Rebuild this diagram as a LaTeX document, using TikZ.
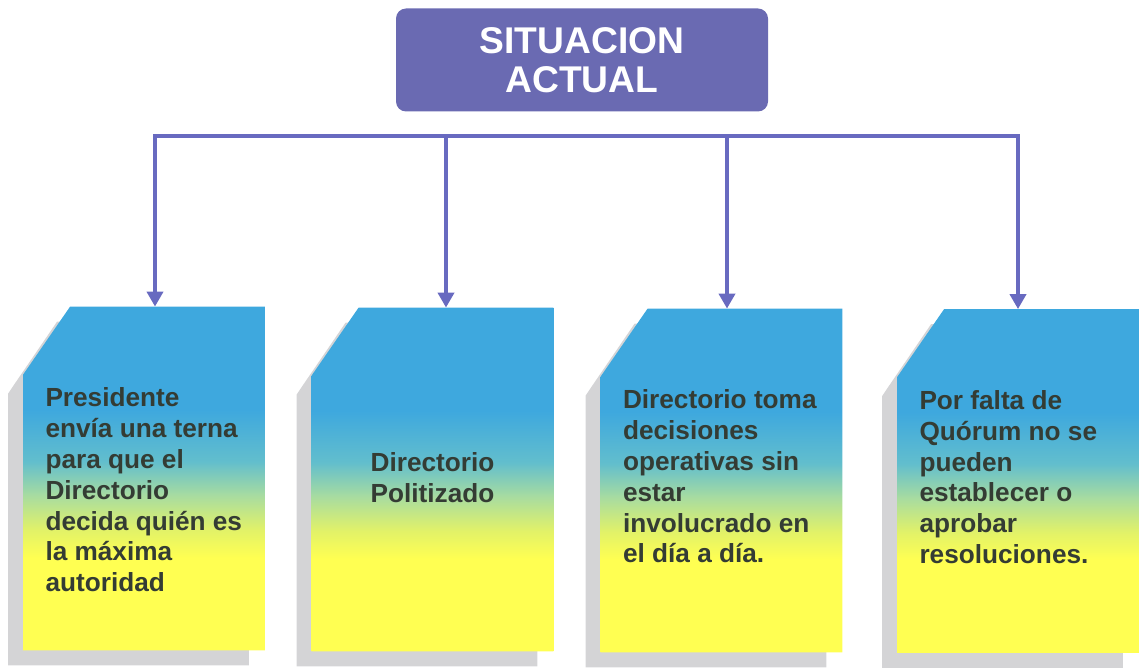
\documentclass[tikz,border=0pt]{standalone}
\usepackage{fontspec}
\setmainfont{Liberation Sans}
\usetikzlibrary{arrows.meta,calc}

\definecolor{titleblue}{RGB}{106,106,178}
\definecolor{linkblue}{RGB}{104,106,192}
\definecolor{cardblue}{RGB}{62,168,222}
\definecolor{cardteal}{RGB}{98,190,205}
\definecolor{cardgreen}{RGB}{168,220,160}
\definecolor{cardlime}{RGB}{226,242,104}
\definecolor{cardyellow}{RGB}{255,255,82}
\definecolor{cardshadow}{RGB}{212,212,214}
\definecolor{cardtext}{RGB}{52,60,52}

% blue on top, yellow at the bottom
\pgfdeclareverticalshading{cardshade}{100bp}{color(0bp)=(cardyellow); color(38.5bp)=(cardyellow);
    color(42.5bp)=(cardlime); color(47.5bp)=(cardgreen); color(52.5bp)=(cardteal);
    color(60bp)=(cardblue); color(100bp)=(cardblue)}

\begin{document}
\begin{tikzpicture}[x=0.5pt,y=-0.5pt,
    titlebox/.style={fill=titleblue, rounded corners=5pt, minimum width=186pt, minimum height=51.5pt,
        text=white, font=\fontsize{18.6}{19.8}\selectfont\bfseries, align=center},
    cardframe/.style={minimum width=120.5pt, minimum height=171.5pt, inner sep=0pt},
    cardtxt/.style={text=cardtext, font=\fontsize{13.1}{15.4}\selectfont\bfseries, align=left,
        inner sep=0pt, anchor=north west},
    link/.style={draw=linkblue, line width=2pt},
    arr/.style={link, -{Triangle[width=8pt,length=7.5pt]}}]
    \useasboundingbox (0,0) rectangle (1140,668);

    % Title
    \node[titlebox] (title) at (582,60) {SITUACION\\ACTUAL};

    % Card frames
    \node[cardframe] (card1) at (144,478.5) {};
    \node[cardframe] (card2) at (432.5,479.5) {};
    \node[cardframe] (card3) at (721.5,480.5) {};
    \node[cardframe] (card4) at (1018,481) {};

    % Card shapes: shadow, then shaded face
    \foreach \c in {card1,card2,card3,card4}{
        \fill[cardshadow] ($(\c.north west)+(34,15)$) -- ($(\c.north east)+(-16,15)$)
            -- ($(\c.south east)+(-16,15)$) -- ($(\c.south west)+(-15,15)$)
            -- ($(\c.north west)+(-15,87)$) -- ($(\c.north west)+(-11,81)$) -- cycle;
        \shade[shading=cardshade] ($(\c.north west)+(47,0)$) -- (\c.north east)
            -- (\c.south east) -- (\c.south west) -- ($(\c.north west)+(0,68)$) -- cycle;
    }

    % Card texts
    \node[cardtxt] (txt1) at ($(card1.north west)+(22,81)$)
        {Presidente\\envía una terna\\para que el\\Directorio\\decida quién es\\la máxima\\autoridad};
    \node[cardtxt, anchor=north, align=center] (txt2) at ($(card2.north)+(0,145)$)
        {Directorio\\Politizado};
    \node[cardtxt] (txt3) at ($(card3.north west)+(22,81)$)
        {Directorio toma\\decisiones\\operativas sin\\estar\\involucrado en\\el día a día.};
    \node[cardtxt] (txt4) at ($(card4.north west)+(22,81)$)
        {Por falta de\\Quórum no se\\pueden\\establecer o\\aprobar\\resoluciones.};

    % Connectors
    \coordinate (b1) at (155,136);
    \coordinate (b2) at (446,136);
    \coordinate (b3) at (727,136);
    \coordinate (b4) at (1018,136);
    \draw[link, line cap=rect] (b1) -- (b4);
    \draw[arr] (b1) -- (b1 |- card1.north);
    \draw[arr] (b2) -- (b2 |- card2.north);
    \draw[arr] (b3) -- (b3 |- card3.north);
    \draw[arr] (b4) -- (b4 |- card4.north);
\end{tikzpicture}
\end{document}
